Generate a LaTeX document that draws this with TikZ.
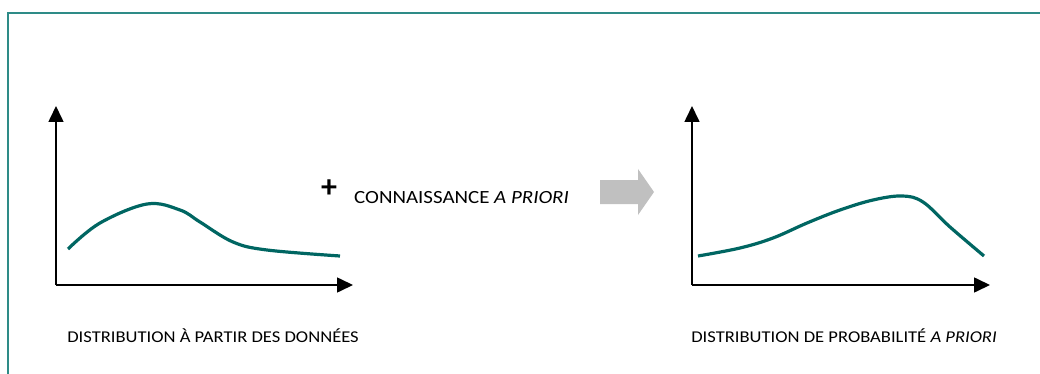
\documentclass[tikz,border=0pt]{standalone}
\usepackage{fontspec}
\setmainfont{Carlito}
\usetikzlibrary{arrows.meta}
\definecolor{framecol}{RGB}{46,139,135}
\definecolor{curvecol}{RGB}{0,102,98}
\definecolor{arrowgray}{RGB}{192,192,192}
\tikzset{
  axis/.style={line width=1.6pt, -{Triangle[length=16pt,width=15pt]}},
  curve/.style={line width=3.2pt, curvecol, line cap=butt},
  caption/.style={font=\fontsize{16.5}{18}\selectfont, inner sep=0pt, anchor=base, xscale=1.125},
}
\begin{document}
\begin{tikzpicture}[x=1pt,y=-1pt]
\useasboundingbox (0,0) rectangle (1040,374);
% frame
\draw[framecol, line width=1.2pt] (8,380) -- (8,13) -- (1045,13);
% left chart
\coordinate (lo) at (56,285);
\coordinate (ly) at (56,106);
\coordinate (lx) at (353,285);
\draw[axis] (lo) -- (ly);
\draw[axis] (lo) -- (lx);
\draw[curve] plot[smooth, tension=0.6] coordinates {(68,249) (100,223) (147,204) (180,210) (200,222) (233,242) (267,250) (340,256)};
\node[caption] (lcap) at (213,342) {DISTRIBUTION À PARTIR DES DONNÉES};
% middle
\node[font=\fontsize{32}{32}\selectfont\bfseries, inner sep=0pt] (plus) at (329,189) {+};
\node[caption, font=\fontsize{18.6}{20}\selectfont, anchor=base west] (know) at (354,203.5) {CONNAISSANCE \textit{A PRIORI}};
\fill[arrowgray] (600,180) -- (638,180) -- (638,169) -- (654,192) -- (638,215) -- (638,204) -- (600,204) -- cycle;
% right chart
\coordinate (ro) at (692,285);
\coordinate (ry) at (692,106);
\coordinate (rx) at (990,285);
\draw[axis] (ro) -- (ry);
\draw[axis] (ro) -- (rx);
\draw[curve] plot[smooth, tension=0.6] coordinates {(698,256) (740,248) (773,238) (807,223) (840,210) (873,200) (902,196) (923,202) (950,227) (984,256)};
\node[caption] (rcap) at (844,342) {DISTRIBUTION DE PROBABILITÉ \textit{A PRIORI}};
\end{tikzpicture}
\end{document}
